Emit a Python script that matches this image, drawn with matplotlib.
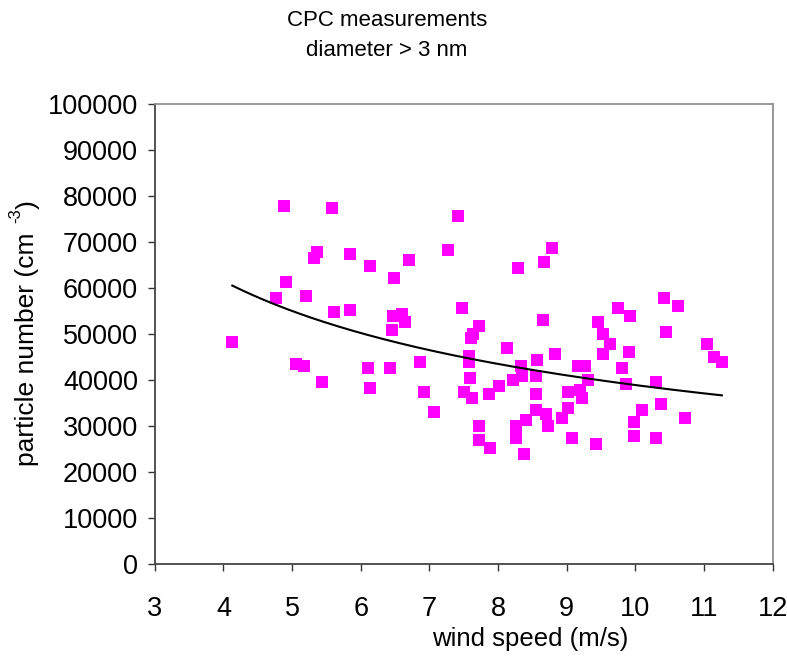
import numpy as np
import matplotlib
matplotlib.use("Agg")
import matplotlib.pyplot as plt

plt.rcParams['font.family'] = ['Liberation Sans', 'DejaVu Sans']

# wind speed (m/s)
wind_speed = [
    4.13, 4.77, 4.88, 4.91, 5.06, 5.17, 5.20, 5.32, 5.37, 5.44,
    5.58, 5.61, 5.84, 5.84, 6.10, 6.13, 6.14, 6.43, 6.45, 6.47,
    6.48, 6.60, 6.65, 6.70, 6.86, 6.92, 7.07, 7.27, 7.41, 7.47,
    7.50, 7.58, 7.58, 7.59, 7.60, 7.62, 7.64, 7.73, 7.73, 7.73,
    7.87, 7.88, 8.02, 8.13, 8.22, 8.26, 8.26, 8.29, 8.34, 8.35,
    8.38, 8.41, 8.55, 8.55, 8.55, 8.57, 8.66, 8.67, 8.70, 8.73,
    8.78, 8.83, 8.93, 9.02, 9.02, 9.08, 9.17, 9.20, 9.22, 9.27,
    9.31, 9.42, 9.46, 9.53, 9.53, 9.63, 9.75, 9.80, 9.86, 9.91,
    9.92, 9.98, 9.98, 10.09, 10.30, 10.30, 10.38, 10.42, 10.45, 10.62,
    10.73, 11.05, 11.15, 11.26,
]
# particle number (cm-3)
particle_number = [
    48200, 57800, 77800, 61200, 43500, 43000, 58200, 66500, 67800, 39600,
    77300, 54700, 55200, 67300, 42500, 38200, 64700, 42500, 50900, 53900,
    62100, 54300, 52500, 66000, 43900, 37400, 33000, 68200, 75600, 55600,
    37400, 45200, 43900, 40400, 49100, 36100, 50000, 51700, 30000, 27000,
    37000, 25200, 38700, 47000, 40000, 30000, 27400, 64300, 43100, 40900,
    23900, 31300, 40900, 37000, 33500, 44300, 53100, 65600, 32600, 30000,
    68600, 45600, 31700, 37300, 33900, 27400, 43100, 37900, 36100, 43100,
    40000, 26100, 52600, 50100, 45600, 47800, 55600, 42600, 39100, 46100,
    53900, 30900, 27800, 33500, 39600, 27400, 34800, 57800, 50400, 56000,
    31700, 47800, 45100, 43900,
]

x = np.array(wind_speed)
y = np.array(particle_number)

# power trendline y = a * x^b
b, log_a = np.polyfit(np.log(x), np.log(y), 1)
xs = np.linspace(x.min(), x.max(), 200)
ys = np.exp(log_a) * xs ** b

fig = plt.figure(figsize=(7.87, 6.64), dpi=100)
ax = fig.add_axes([0.1966, 0.1506, 0.7852, 0.6928])

ax.scatter(x, y, marker='s', s=75, color='#FF00FF', linewidths=0, zorder=2)
ax.plot(xs, ys, color='black', lw=1.5, zorder=3)

ax.set_xlim(3, 12)
ax.set_ylim(0, 100000)
ax.set_xticks(range(3, 13))
ax.set_yticks(range(0, 100001, 10000))
ax.tick_params(direction='out', length=5, width=1, labelsize=19.5, colors='#333333',
               labelcolor='black')
ax.tick_params(axis='y', pad=7)
ax.tick_params(axis='x', pad=18)
for side in ['left', 'bottom']:
    ax.spines[side].set_color('#444444')
    ax.spines[side].set_linewidth(1.3)
for side in ['top', 'right']:
    ax.spines[side].set_color('#909090')
    ax.spines[side].set_linewidth(1.3)

ax.set_xlabel('wind speed (m/s)', fontsize=18.5, va='center')
ax.xaxis.set_label_coords((530 - 154.7) / 618, (564 - 639) / 460)

# y label with the superscript set apart, as in the original
fig.text(27 / 787, 1 - 466 / 664, 'particle number (cm', rotation=90,
         ha='center', va='bottom', fontsize=19)
fig.text(16 / 787, 1 - 223 / 664, '-3', rotation=90,
         ha='center', va='bottom', fontsize=12)
fig.text(28 / 787, 1 - 209 / 664, ')', rotation=90,
         ha='center', va='bottom', fontsize=19)

fig.text(387 / 787, 1 - 20 / 664, 'CPC measurements', ha='center', va='center', fontsize=16)
fig.text(387 / 787, 1 - 50 / 664, 'diameter > 3 nm', ha='center', va='center', fontsize=16)

fig.savefig('out.png', dpi=100)
